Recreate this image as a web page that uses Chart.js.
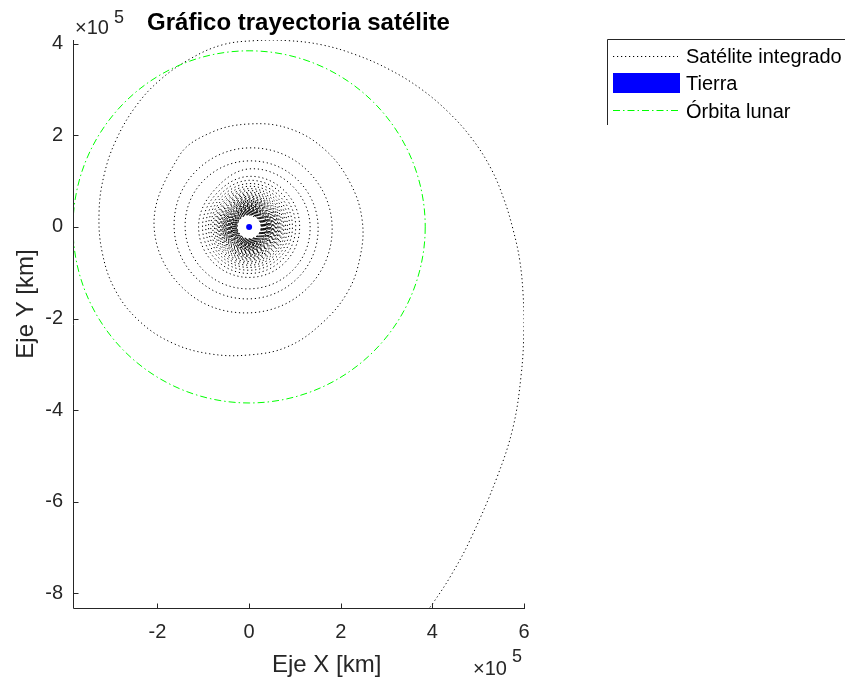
<!DOCTYPE html>
<html><head><meta charset="utf-8">
<script src="https://cdn.jsdelivr.net/npm/chart.js@4.4.0/dist/chart.umd.min.js"></script>
<style>html,body{margin:0;padding:0;background:#fff;}canvas{display:block}</style>
</head><body>
<canvas id="c" width="845" height="681"></canvas>
<script>
const FONT = '"Liberation Sans", Arial, Helvetica, sans-serif';
const AX = '#262626';

// ---- data (km) ----
// dense low-altitude spiral: one estimated radius per revolution
const coreRingRadiiKm = [26000, 26700, 27400, 28100, 28800, 29500, 30200, 30900, 31600, 32300, 33000, 33700, 34400, 35100, 35800, 36500, 37300, 38100, 38900, 39700, 40500, 41300, 42100, 43000, 43900, 44800, 45700, 46700, 47700, 48800, 49900, 51100, 52300, 53600, 54900, 56300, 57800, 59400, 61100, 62900, 64900, 67100, 69600, 72400, 75600, 79300, 83600, 88600, 94600, 101700, 110300];
// outer visible loops: radius every 45 deg, clockwise from the top
const spiralOctantRadiiKm = [126600, 129900, 133200, 134300, 135300, 137500, 139700, 141900,
                             144100, 147400, 150600, 153900, 157200, 160500, 163700, 168100,
                             172500, 176800, 181200, 184500, 187700, 196500, 207400, 217200];
// last loop and escape arc
const escapeXKm = [-85100, 2200, 89500, 165900, 220500, 246700, 242300, 213900, 155000, 83000, 2200, -85100, -168100, -240100, -292500, -320900, -327500, -316500, -290300, -246700, -194300, -128800, -58900, 13100, 85100, 159400, 233600, 305600, 373300, 434400, 486800, 528300, 556700, 576300, 590500, 598100, 599800, 593800, 576300, 541400, 482400, 438800, 401700, 382000];
const escapeYKm = [205100, 224800, 213900, 168100, 96100, 15300, -65500, -144100, -213900, -262000, -279400, -277200, -253200, -205200, -137500, -54600, 32700, 113500, 189900, 264100, 320900, 366700, 397300, 406600, 406600, 397300, 375500, 343800, 302400, 251000, 192100, 126600, 58900, -6500, -72000, -148400, -224800, -323100, -436600, -545800, -683300, -764100, -820800, -847000];
const earthXKm = [0];
const earthYKm = [0];
const moonOrbitXKm = [271812, 384400, 271812, 0, -271812, -384400, -271812, 0, 271812, 384400, 271812];
const moonOrbitYKm = [271812, 0, -271812, -384400, -271812, 0, 271812, 384400, 271812, 0, -271812];
const xTicks = [-200000, 0, 200000, 400000, 600000];
const yTicks = [-800000, -600000, -400000, -200000, 0, 200000, 400000];
const xRange = [-384400, 600000];
const yRange = [-832000, 408000];
const seriesNames = ['Satélite integrado', 'Tierra', 'Órbita lunar'];
const titleText = 'Gráfico trayectoria satélite';

// ---- build point tables ----
const S = Math.SQRT1_2;
const octantDirs = [[0, 1], [S, S], [1, 0], [S, -S], [0, -1], [-S, -S], [-1, 0], [-S, S]];
const satPts = [];
coreRingRadiiKm.forEach(r => octantDirs.forEach(d => satPts.push({x: r * d[0], y: r * d[1]})));
spiralOctantRadiiKm.forEach((r, i) => { const d = octantDirs[i % 8]; satPts.push({x: r * d[0], y: r * d[1]}); });
escapeXKm.forEach((x, i) => satPts.push({x: x, y: escapeYKm[i]}));
const moonPts = moonOrbitXKm.map((x, i) => ({x: x, y: moonOrbitYKm[i]}));
const earthPts = earthXKm.map((x, i) => ({x: x, y: earthYKm[i]}));
const lastMoon = moonPts.length - 1;

const deco = {
  id: 'deco',
  afterDraw(chart) {
    const ctx = chart.ctx, a = chart.chartArea, xs = chart.scales.x, ys = chart.scales.y;
    ctx.save();
    ctx.strokeStyle = AX; ctx.lineWidth = 1; ctx.setLineDash([]);
    const L = Math.round(a.left) + 0.5, B = Math.round(a.bottom) + 0.5;
    ctx.beginPath();
    ctx.moveTo(L, a.top); ctx.lineTo(L, B); ctx.lineTo(a.right + 1, B);
    xTicks.forEach(v => { const p = Math.round(xs.getPixelForValue(v)) + 0.5; ctx.moveTo(p, B); ctx.lineTo(p, B - 5); });
    yTicks.forEach(v => { const p = Math.round(ys.getPixelForValue(v)) + 0.5; ctx.moveTo(L, p); ctx.lineTo(L + 5, p); });
    ctx.stroke();

    ctx.fillStyle = '#000';
    ctx.font = 'bold 24px ' + FONT;
    ctx.textAlign = 'center'; ctx.textBaseline = 'alphabetic';
    ctx.fillText(titleText, (a.left + a.right) / 2, 30);

    ctx.fillStyle = AX; ctx.textAlign = 'left';
    ctx.font = '20px ' + FONT;
    ctx.fillText('\u00d710', 75, 34);
    ctx.fillText('\u00d710', 473, 675);
    ctx.font = '18px ' + FONT;
    ctx.fillText('5', 114, 23);
    ctx.fillText('5', 512, 662);

    ctx.font = '24px ' + FONT;
    ctx.textAlign = 'left';
    ctx.fillText('Eje X [km]', 272, 672);
    ctx.save();
    ctx.translate(33, 304); ctx.rotate(-Math.PI / 2);
    ctx.textAlign = 'center';
    ctx.fillText('Eje Y [km]', 0, 0);
    ctx.restore();

    ctx.strokeStyle = AX; ctx.lineWidth = 1;
    ctx.beginPath();
    ctx.moveTo(607.5, 125); ctx.lineTo(607.5, 39.5); ctx.lineTo(845, 39.5);
    ctx.stroke();
    ctx.strokeStyle = '#000'; ctx.setLineDash([1.2, 2.8]);
    ctx.beginPath(); ctx.moveTo(613, 56.5); ctx.lineTo(678, 56.5); ctx.stroke();
    ctx.fillStyle = '#0000ff'; ctx.fillRect(613, 73, 67, 20);
    ctx.strokeStyle = '#00ff00'; ctx.setLineDash([7, 3, 1.5, 3]);
    ctx.beginPath(); ctx.moveTo(613, 110.5); ctx.lineTo(678, 110.5); ctx.stroke();
    ctx.setLineDash([]);
    ctx.fillStyle = '#000'; ctx.font = '20px ' + FONT; ctx.textAlign = 'left';
    ctx.fillText(seriesNames[0], 686, 63);
    ctx.fillText(seriesNames[1], 686, 90);
    ctx.fillText(seriesNames[2], 686, 118);
    ctx.restore();
  }
};

new Chart(document.getElementById('c'), {
  type: 'scatter',
  data: {
    datasets: [
      { label: seriesNames[1], data: earthPts, order: 0, showLine: false,
        pointRadius: 3, pointBackgroundColor: '#0000ff', pointBorderWidth: 0 },
      { label: seriesNames[2], data: moonPts, order: 1, showLine: true, tension: 0.375, capBezierPoints: false,
        borderColor: '#00ff00', borderWidth: 1, borderDash: [7, 3, 1.5, 3], pointRadius: 0,
        segment: { borderColor: c => (c.p0DataIndex === 0 || c.p1DataIndex === lastMoon) ? 'rgba(0,0,0,0)' : undefined } },
      { label: seriesNames[0], data: satPts, order: 2, showLine: true, tension: 0.38, capBezierPoints: false,
        borderColor: '#000', borderWidth: 1, borderDash: [1.2, 2.8], pointRadius: 0 }
    ]
  },
  options: {
    responsive: false, animation: false, devicePixelRatio: 1,
    layout: { padding: { left: 0, top: 40, right: 321, bottom: 0 } },
    plugins: { legend: { display: false }, title: { display: false }, tooltip: { enabled: false } },
    scales: {
      x: {
        type: 'linear', min: xRange[0], max: xRange[1],
        grid: { display: false, drawTicks: false }, border: { display: false },
        afterBuildTicks: s => { s.ticks = xTicks.map(v => ({value: v})); },
        afterFit: s => { s.height = 73; },
        ticks: { autoSkip: false, maxRotation: 0, padding: 12, color: AX,
          font: { family: FONT, size: 20 }, callback: v => String(v / 1e5) }
      },
      y: {
        type: 'linear', min: yRange[0], max: yRange[1],
        grid: { display: false, drawTicks: false }, border: { display: false },
        afterBuildTicks: s => { s.ticks = yTicks.map(v => ({value: v})); },
        afterFit: s => { s.width = 73; },
        ticks: { autoSkip: false, padding: 10, color: AX,
          font: { family: FONT, size: 20 }, callback: v => String(v / 1e5) }
      }
    }
  },
  plugins: [deco]
});
</script>
</body></html>
